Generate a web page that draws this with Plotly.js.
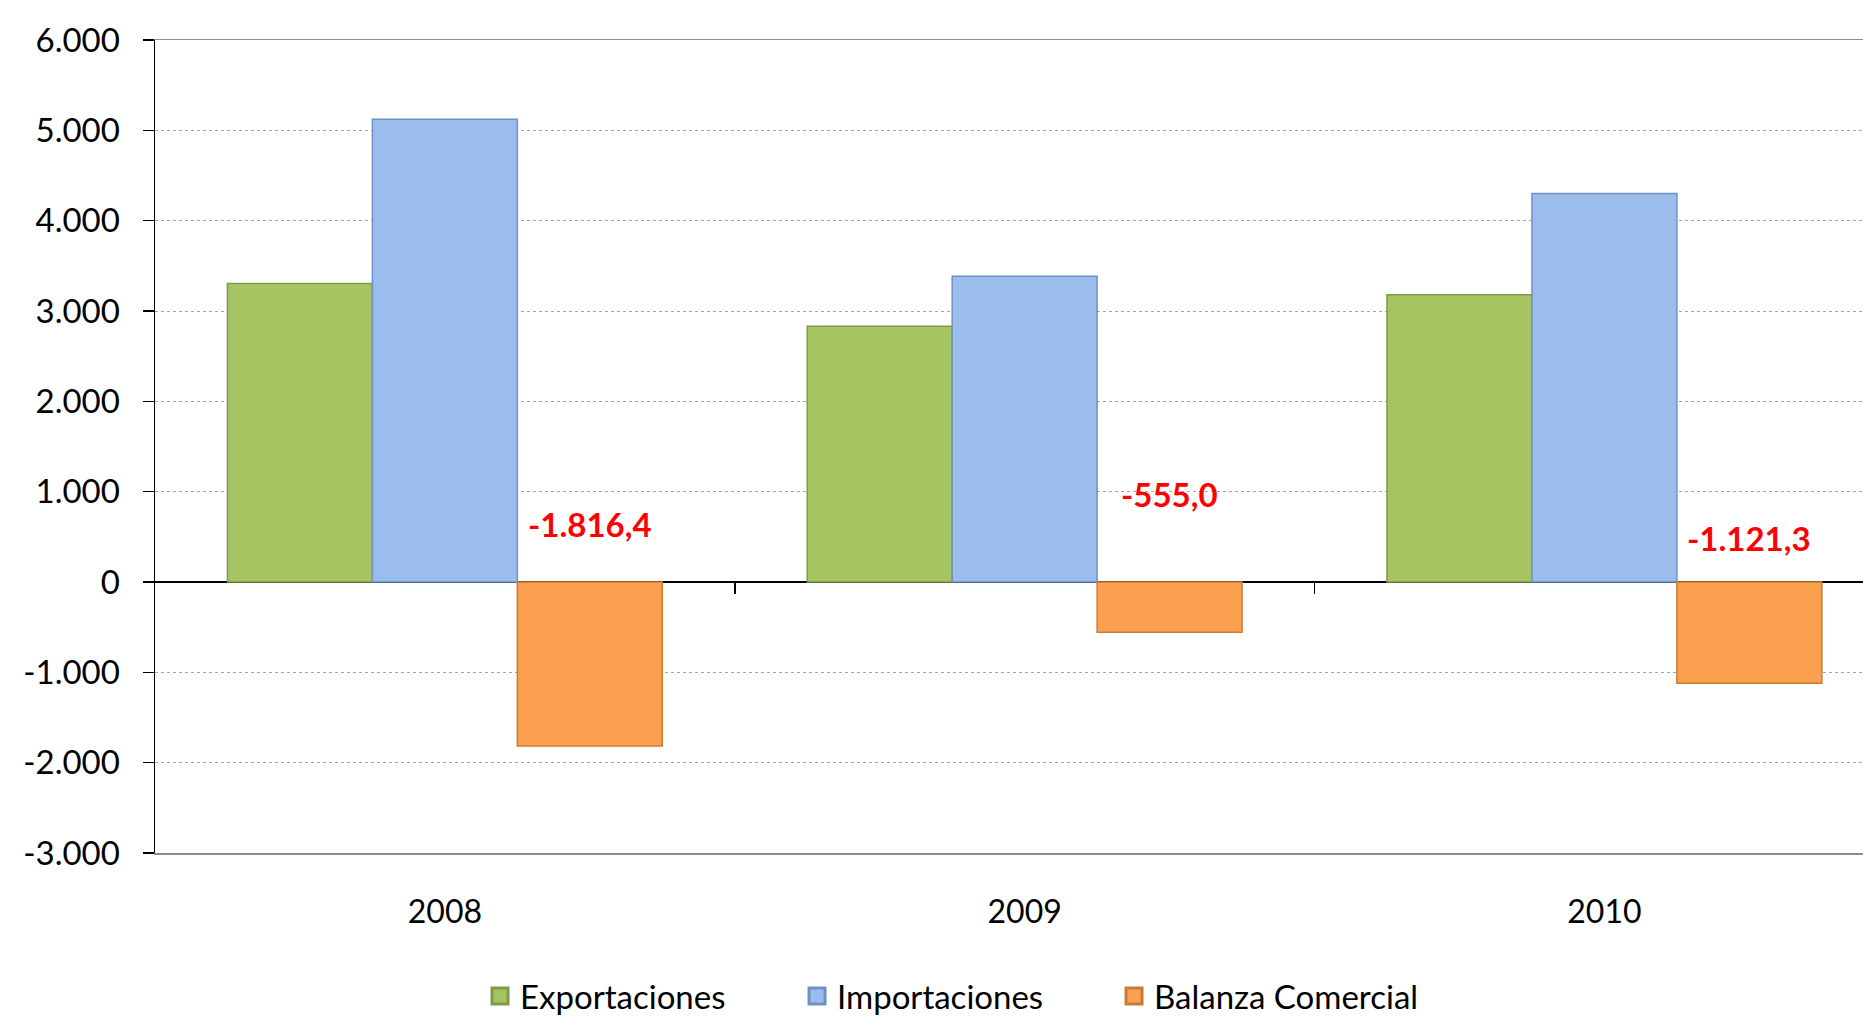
<!DOCTYPE html>
<html>
<head>
<meta charset="utf-8">
<script src="https://cdn.plot.ly/plotly-3.0.1.min.js"></script>
<style>
  html, body { margin: 0; padding: 0; background: #ffffff; overflow: hidden; }
  #chart { width: 1863px; height: 1016px; }
</style>
</head>
<body>
<div id="chart"></div>
<script>
// ---- Data ----
const years = ["2008", "2009", "2010"];
const exportaciones = [3305.0, 2830.0, 3180.0];
const importaciones = [5121.4, 3385.0, 4301.3];
const balanza = [-1816.4, -555.0, -1121.3];
const balanzaLabels = ["-1.816,4", "-555,0", "-1.121,3"];
const labelY = [640, 975, 490];
const yTickVals = [-3000, -2000, -1000, 0, 1000, 2000, 3000, 4000, 5000, 6000];
const yTickText = ["-3.000", "-2.000", "-1.000", "0", "1.000", "2.000", "3.000", "4.000", "5.000", "6.000"];
const seriesNames = ["Exportaciones", "Importaciones", "Balanza Comercial"];

// ---- Styles ----
const FONT = "Lato, 'Open Sans', sans-serif";
const fills = ["#A5C563", "#9BBDEE", "#FBA04E"];
const edges = ["#7F9A49", "#7092C2", "#C97C3A"];
const bargap = 0.25;

const traces = [exportaciones, importaciones, balanza].map((vals, k) => ({
  type: "bar",
  name: seriesNames[k],
  x: years,
  y: vals,
  marker: { color: fills[k], line: { color: edges[k], width: 1.5 } },
  showlegend: false,
  hoverinfo: "x+y"
}));

// legend entries (larger square swatches)
seriesNames.forEach((nm, k) => {
  traces.push({
    type: "scatter", mode: "markers", name: nm,
    x: [null], y: [null],
    marker: { symbol: "square", size: 16, color: fills[k], line: { color: edges[k], width: 3 } },
    showlegend: true, hoverinfo: "skip"
  });
});

// invisible trace to host boundary ticks on the zero line
traces.push({
  type: "scatter", x: [null], y: [null], xaxis: "x2", yaxis: "y",
  showlegend: false, hoverinfo: "skip"
});

const nSeries = 3;
const barW = (1 - bargap) / nSeries;
const annotations = balanza.map((v, i) => ({
  x: i + barW,
  y: labelY[i],
  xref: "x",
  yref: "y",
  text: "<b>" + balanzaLabels[i] + "</b>",
  showarrow: false,
  font: { family: FONT, size: 33, color: "#FF0000" },
  xanchor: "center",
  yanchor: "middle"
}));

const layout = {
  width: 1863,
  height: 1016,
  margin: { l: 155, r: 0, t: 40, b: 163, autoexpand: false },
  paper_bgcolor: "#ffffff",
  plot_bgcolor: "#ffffff",
  font: { family: FONT, size: 33, color: "#000000" },
  barmode: "group",
  bargap: bargap,
  bargroupgap: 0,
  showlegend: true,
  legend: {
    orientation: "h",
    x: 0.1903,
    xanchor: "left",
    y: -0.176,
    yanchor: "middle",
    entrywidth: 272,
    entrywidthmode: "pixels",
    font: { family: FONT, size: 33, color: "#000000" },
    traceorder: "normal",
    itemclick: false
  },
  xaxis: {
    type: "category",
    range: [-0.5, 2.446],
    showgrid: false,
    zeroline: false,
    showline: true,
    linecolor: "#8C8C8C",
    linewidth: 1.5,
    mirror: true,
    ticks: "",
    ticklabelstandoff: 30,
    tickfont: { family: FONT, size: 32, color: "#000000" },
    fixedrange: true
  },
  xaxis2: {
    overlaying: "x",
    anchor: "free",
    position: 1 / 3,
    range: [-0.5, 2.446],
    tickvals: [0.5, 1.5],
    ticks: "outside",
    ticklen: 11,
    tickwidth: 1.5,
    tickcolor: "#000000",
    showticklabels: false,
    showgrid: false,
    zeroline: false,
    showline: false,
    fixedrange: true
  },
  yaxis: {
    range: [-3000, 6000],
    tickvals: yTickVals,
    ticktext: yTickText,
    showgrid: true,
    gridcolor: "#A6A6A6",
    griddash: "dot",
    gridwidth: 1,
    zeroline: true,
    zerolinecolor: "#000000",
    zerolinewidth: 1.5,
    showline: true,
    linecolor: "#000000",
    linewidth: 1.5,
    ticks: "outside",
    ticklen: 11,
    tickwidth: 1.5,
    tickcolor: "#000000",
    ticklabelstandoff: 16,
    tickfont: { family: FONT, size: 33, color: "#000000" },
    fixedrange: true
  },
  annotations: annotations
};

Plotly.newPlot("chart", traces, layout, { displayModeBar: false, staticPlot: true });
</script>
</body>
</html>
